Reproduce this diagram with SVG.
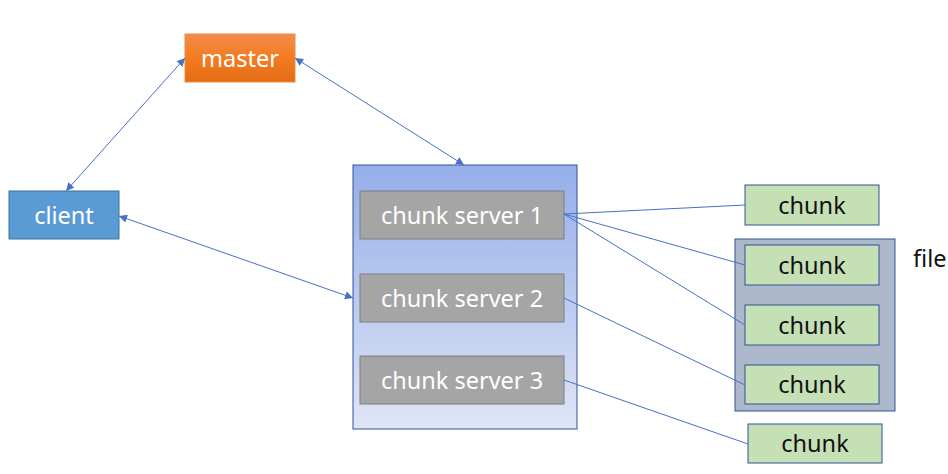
<svg xmlns="http://www.w3.org/2000/svg" width="948" height="474" viewBox="0 0 948 474">
<style>
text{font-family:"Noto Sans","Liberation Sans",sans-serif;font-size:23.5px;text-anchor:middle}
.w{fill:#ffffff}
.k{fill:#111111}
.srv{fill:#a5a5a5;stroke:#7f7f7f;stroke-width:1}
.chk{fill:#c5e0b4;stroke:#2f5597;stroke-width:1}
.ln{stroke:#4472c4;stroke-width:1;fill:none}
</style>
<defs>
<linearGradient id="gOr" x1="0" y1="0" x2="0" y2="1">
<stop offset="0" stop-color="#f28d4c"/>
<stop offset="0.5" stop-color="#f47b20"/>
<stop offset="1" stop-color="#e36c16"/>
</linearGradient>
<linearGradient id="gBl" x1="0" y1="0" x2="0" y2="1">
<stop offset="0" stop-color="#95aee9"/>
<stop offset="1" stop-color="#dfe5f6"/>
</linearGradient>
<marker id="ah" viewBox="0 0 10 10" refX="10" refY="5" markerWidth="10" markerHeight="8" markerUnits="userSpaceOnUse" orient="auto-start-reverse">
<path d="M0,0 L10,5 L0,10 z" fill="#4472c4"/>
</marker>
</defs>
<g id="master">
<rect x="185" y="34" width="110" height="48" fill="url(#gOr)" stroke="#f08a40" stroke-width="1"/>
<text x="240" y="67" class="w">master</text>
</g>
<g id="client">
<rect x="9" y="191" width="110" height="48" fill="#5b9bd5" stroke="#41719c" stroke-width="1"/>
<text x="64" y="224" class="w">client</text>
</g>
<g id="chunkservers">
<rect x="353" y="165" width="224" height="264" fill="url(#gBl)" stroke="#2f5597" stroke-width="1"/>
</g>
<g id="cs1">
<rect x="360" y="191" width="204" height="48" class="srv"/>
<text x="462" y="224" class="w">chunk server 1</text>
</g>
<g id="cs2">
<rect x="360" y="274" width="204" height="48" class="srv"/>
<text x="462" y="307" class="w">chunk server 2</text>
</g>
<g id="cs3">
<rect x="360" y="356" width="204" height="48" class="srv"/>
<text x="462" y="389" class="w">chunk server 3</text>
</g>
<g id="file">
<rect x="735" y="239" width="160" height="172" fill="#adb9ca" stroke="#2f5597" stroke-width="1"/>
<text x="913" y="267" class="k" style="text-anchor:start">file</text>
</g>
<g id="chunk1">
<rect x="745" y="185" width="134" height="40" class="chk"/>
<text x="812" y="214" class="k">chunk</text>
</g>
<g id="chunk2">
<rect x="745" y="245" width="134" height="40" class="chk"/>
<text x="812" y="274" class="k">chunk</text>
</g>
<g id="chunk3">
<rect x="745" y="305" width="134" height="40" class="chk"/>
<text x="812" y="334" class="k">chunk</text>
</g>
<g id="chunk4">
<rect x="745" y="365" width="134" height="39" class="chk"/>
<text x="812" y="393" class="k">chunk</text>
</g>
<g id="chunk5">
<rect x="748" y="424" width="134" height="39" class="chk"/>
<text x="815" y="452" class="k">chunk</text>
</g>
<g id="connectors">
<line x1="185" y1="58" x2="66" y2="191" class="ln" marker-start="url(#ah)" marker-end="url(#ah)"/>
<line x1="295" y1="58" x2="464" y2="165" class="ln" marker-start="url(#ah)" marker-end="url(#ah)"/>
<line x1="119" y1="216" x2="353" y2="298" class="ln" marker-start="url(#ah)" marker-end="url(#ah)"/>
<line x1="564" y1="214" x2="745" y2="205" class="ln"/>
<line x1="564" y1="214" x2="745" y2="265" class="ln"/>
<line x1="564" y1="214" x2="745" y2="325" class="ln"/>
<line x1="564" y1="298" x2="745" y2="385" class="ln"/>
<line x1="564" y1="380" x2="748" y2="444" class="ln"/>
</g>
</svg>
